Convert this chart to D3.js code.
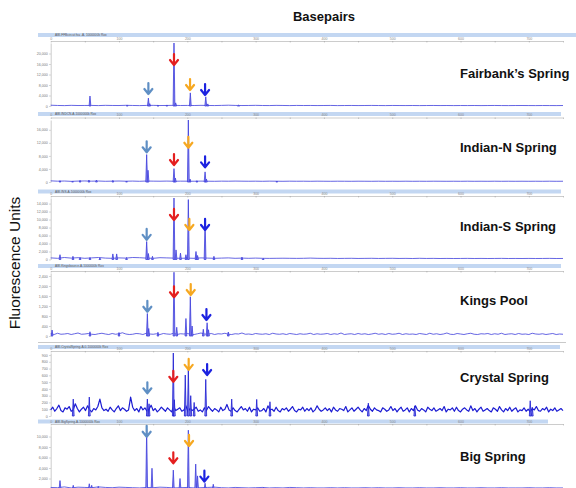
<!DOCTYPE html>
<html>
<head>
<meta charset="utf-8">
<script src="https://cdn.jsdelivr.net/npm/d3@7"></script>
<style>
  body { margin: 0; background: #fff; }
  svg { display: block; font-family: "Liberation Sans", Arial, sans-serif; }
</style>
</head>
<body>
<div id="chart"></div>
<script>
// ---- data ----
const samples = ["Fairbank\u2019s Spring", "Indian-N Spring", "Indian-S Spring", "Kings Pool", "Crystal Spring", "Big Spring"];
const runNames = [
  "ABI-FFBcircut.fsa -A- 1000000k Rox",
  "ABI-INDCN-A-1000000k Rox",
  "ABI-INS-A-1000000k Rox",
  "ABI-Kingsbource-A-1000000k Rox",
  "ABI-CrystalSpring-A-0-1000000k Rox",
  "ABI-BigSpring-A-1000000k Rox"
];
const bpTicks = [0, 100, 200, 300, 400, 500, 600, 700];
const bpMax = 750;

// only the tick labels that show on the page
const yTicks = [
  [0, 4000, 8000, 12000, 16000, 20000],
  [0, 4000, 8000, 12000, 16000],
  [0, 2000, 4000, 6000, 8000, 10000, 12000, 14000],
  [0, 400, 800, 1200, 1600, 2000, 2400],
  [0, 100, 200, 300, 400, 500, 600, 700, 800, 900],
  [2000, 4000, 6000, 8000, 10000]
];
const yMax = [24000, 19000, 15400, 2520, 930, 12000];

// peaks: [basepairs, fluorescence]
const peaks = [
  [[57.5, 3800], [112, 400], [143, 3000], [145, 900], [157, 300], [170, 400], [180.5, 24000], [183, 1200], [204.4, 5000], [227, 3500], [230, 800], [275, 300]],
  [[13.6, 400], [32, 300], [43, 500], [56, 600], [67, 600], [91, 500], [111, 300], [140.5, 8400], [142.5, 3600], [180.5, 4100], [182.5, 1200], [201.5, 19000], [204, 900], [214, 400], [226, 3100], [228, 900], [331, 300]],
  [[13.6, 1200], [32.6, 800], [43, 500], [57.5, 500], [72, 400], [91, 1400], [96.6, 1400], [111, 500], [140.5, 4500], [143, 1500], [149, 800], [180.5, 15400], [183.5, 2400], [190, 1600], [198, 1200], [201.5, 15000], [212.7, 2000], [215, 1000], [226, 9500], [239, 800], [280, 600], [311, 300]],
  [[2, 240], [57.5, 170], [100, 140], [141.5, 900], [143.5, 300], [157, 150], [180.5, 2550], [184.5, 350], [198, 700], [204.4, 1570], [207, 400], [223.4, 270], [229, 530], [231, 250], [260, 160]],
  [[33, 250], [56.5, 280], [141.5, 250], [144, 180], [179.5, 930], [181, 240], [197, 605], [201.5, 700], [205, 300], [210, 200], [227, 540], [265, 250], [301.6, 245], [321, 210], [465, 190], [533, 150], [702, 225], [705, 130]],
  [[13.6, 1600], [33, 700], [56.5, 1000], [60, 700], [69.7, 500], [140.5, 11300], [148.3, 3950], [179.5, 3600], [189.3, 2000], [201.5, 11200], [212.3, 4750], [215, 2500], [226, 1100], [238, 900], [311, 300]]
];

// arrows: [basepairs, fluorescence at arrow tip]  (order: lightblue, red, orange, blue)
const arrowMarks = [
  [[143, 4570], [180.5, 15620], [204, 6100], [226, 4190]],
  [[140.5, 9100], [180.5, 5200], [201.5, 10500], [226, 4500]],
  [[140.5, 4900], [180.5, 9900], [203, 7400], [226, 7400]],
  [[141.5, 970], [180.5, 1550], [205, 1640], [228, 640]],
  [[141.5, 335], [179.5, 505], [202, 680], [229, 605]],
  [[140.5, 9950], [179.5, 4900], [202.5, 8200], [225, 1400]]
];

// baseline signal, evenly spaced over 0..750 bp
const noise = [
  [300,200,150,250,180,200,220,160,250,200, 180,260,200,150,220,240,180,200,260,190,
   220,180,250,200,170,230,300,220,180,200, 250,190,170,230,200,160,210,180,200,170,
   190,210,160,180,200,170,190,210,180,160, 200,180,170,190,160,180,200,170,190,160,
   180,170,190,160,180,200,170,160,180,190, 170,160,180,170,160,180],
  [350,250,300,200,280,320,250,300,220,260, 300,240,280,220,300,260,240,280,230,260,
   250,230,270,240,220,260,240,280,250,230, 250,220,260,240,220,250,230,240,220,250,
   230,220,240,230,220,240,230,220,240,220, 230,220,240,220,230,220,240,230,220,230,
   220,240,220,230,220,240,220,230,220,230, 220,230,220,240,220,230],
  [400,300,500,350,450,300,400,500,350,300, 400,350,500,450,350,300,450,400,350,300,
   350,300,400,350,300,350,400,300,350,300, 350,300,280,300,320,300,280,300,350,300,
   280,300,260,280,300,260,280,300,260,280, 300,260,280,250,300,260,280,250,270,250,
   260,280,250,270,250,260,280,250,260,250, 270,250,260,280,250,260],
  [90,60,110,70,80,100,60,90,120,70, 80,100,70,60,90,110,80,60,100,70,
   90,130,80,60,70,100,90,60,110,80, 70,90,60,100,80,70,110,60,90,80,
   100,70,60,90,120,80,70,100,60,90, 80,110,70,60,90,80,120,70,80,60,
   100,80,70,90,60,110,80,70,90,60, 100,80,60,90,70,80,110,60,90,70,
   80,100,60,90,70,120,60,80,90,60, 100,70,90,60,80,110,70,90,60,100,
   70,80,110,60,90,70,80,60,100,80, 60,110,70,90,60,80,120,70,60,100,
   80,60,90,110,70,60,90,80,100,60, 90,70,110,60,80,90,60,100,70,80,
   60,110,80,70,90,60,80,100,60,80, 70],
  [90,130,70,110,160,80,60,120,100,140, 70,90,180,110,60,100,130,80,150,90,
   60,110,90,140,250,120,80,100,70,130, 90,60,110,150,80,120,100,70,90,280,
   130,80,110,60,140,90,120,70,100,160, 80,110,60,90,130,100,70,120,90,60,
   140,80,100,120,70,90,150,60,110,80, 100,130,70,90,60,120,80,140,100,70,
   110,90,60,130,80,100,170,90,70,120, 80,60,100,140,90,110,70,130,60,100,
   90,120,70,80,110,60,150,90,100,70, 130,80,60,110,90,120,70,100,140,80,
   60,100,90,130,70,110,80,120,60,90, 150,100,70,90,120,80,110,60,130,90,
   70,110,100,80,140,60,90,120,70,100, 130,90,60,110,80,160,100,70,120,90,
   80,60,120,100,70,90,140,80,110,60, 100,130,70,90,120,60,110,80,150,90,
   70,110,90,60,130,100,80,120,70,90, 110,80,140,60,100,90,120,70,130,80,
   60,100,120,90,70,150,80,110,60,100, 130,70,90,110,80,60,120,100,70,140,
   90,60,110,80,130,70,100,120,60,90, 80,120,70,100,60,110,90,140,80,70,
   110,90,130,60,100,80,120,70,90,110, 80],
  [300,250,400,200,350,300,250,400,300,250, 350,300,250,200,300,250,350,300,200,250,
   300,200,250,300,350,250,200,300,250,200, 250,300,200,250,200,300,250,200,250,200,
   200,250,200,250,200,200,250,200,250,200, 200,250,200,200,250,200,200,250,200,200,
   250,200,200,250,200,200,250,200,200,200, 250,200,200,250,200,200]
];

// ---- layout ----
const width = 576;
const height = 488;
const layout = [
  { bar: 33,    axis: 41,    top: 43,  base: 106,   label: 73,  barEnd: 576 },
  { bar: 112,   axis: 117.5, top: 120, base: 182,   label: 147, barEnd: 561 },
  { bar: 189.5, axis: 196,   top: 198, base: 259.5, label: 226, barEnd: 561 },
  { bar: 264,   axis: 271,   top: 273, base: 336,   label: 300, barEnd: 561 },
  { bar: 345,   axis: 351,   top: 353, base: 416,   label: 377, barEnd: 560 },
  { bar: 419.5, axis: 424,   top: 426, base: 489,   label: 456, barEnd: 548 }
];
const arrowColors = ["#5f8fc4", "#e41f1f", "#f6a821", "#1c22e0"];

const svg = d3.select("#chart")
  .append("svg")
  .attr("width", width)
  .attr("height", height);

const x = d3.scaleLinear().domain([0, bpMax]).range([50.7, 563]);

svg.append("text")
  .attr("x", 324)
  .attr("y", 21)
  .attr("text-anchor", "middle")
  .style("font-size", "13px")
  .style("font-weight", "bold")
  .attr("fill", "#111")
  .text("Basepairs");

svg.append("text")
  .attr("transform", "translate(20,263) rotate(-90)")
  .attr("text-anchor", "middle")
  .style("font-size", "15.5px")
  .attr("fill", "#111")
  .text("Fluorescence Units");

// faint frame line above Crystal Spring
svg.append("line")
  .attr("x1", 38).attr("x2", 566)
  .attr("y1", 342.5).attr("y2", 342.5)
  .attr("stroke", "#bbb")
  .attr("stroke-width", 0.8);

samples.forEach((name, i) => {
  const L = layout[i];
  const g = svg.append("g");

  const y = d3.scaleLinear().domain([0, yMax[i]]).range([L.base, L.top]);

  // header bar
  g.append("rect")
    .attr("x", 38)
    .attr("y", L.bar)
    .attr("width", L.barEnd - 38)
    .attr("height", 4)
    .attr("fill", "#c3d7f2");

  g.append("text")
    .attr("x", 55)
    .attr("y", L.bar + 3.2)
    .style("font-size", "3.2px")
    .attr("fill", "#555")
    .text(runNames[i]);

  // bp axis along the top
  const xAxis = g.append("g")
    .attr("transform", `translate(0,${L.axis})`)
    .call(d3.axisBottom(x)
      .tickValues(d3.range(0, bpMax + 1, 50))
      .tickSize(1.5)
      .tickSizeOuter(0)
      .tickFormat(d => bpTicks.includes(d) ? d : ""));
  xAxis.select(".domain").attr("stroke", "#999").attr("stroke-width", 0.5);
  xAxis.selectAll(".tick line").attr("stroke", "#999").attr("stroke-width", 0.5);
  xAxis.selectAll("text")
    .attr("y", -1.3)
    .attr("dy", 0)
    .attr("fill", "#888")
    .style("font-size", "3.5px");

  // fluorescence axis
  const yAxis = g.append("g")
    .attr("transform", `translate(${x(0)},0)`)
    .call(d3.axisLeft(y)
      .tickValues(yTicks[i])
      .tickSize(1.5)
      .tickPadding(1.5)
      .tickSizeOuter(0));
  yAxis.select(".domain").attr("stroke", "#999").attr("stroke-width", 0.5);
  yAxis.selectAll(".tick line").attr("stroke", "#999").attr("stroke-width", 0.5);
  yAxis.selectAll("text")
    .attr("fill", "#777")
    .style("font-size", "3.6px");

  const traceColor = i === 4 ? "#1c1cd2" : "#3f3fdc";
  const step = bpMax / (noise[i].length - 1);

  // baseline signal
  g.append("path")
    .datum(noise[i])
    .attr("fill", "none")
    .attr("stroke", traceColor)
    .attr("stroke-width", i === 4 ? 1.2 : 0.8)
    .attr("stroke-linejoin", "round")
    .attr("d", d3.line()
      .x((d, k) => x(k * step))
      .y(d => y(d)));

  // peaks as narrow spikes
  g.selectAll("path.peak")
    .data(peaks[i])
    .enter()
    .append("path")
    .attr("class", "peak")
    .attr("fill", "#8a8aee")
    .attr("stroke", traceColor)
    .attr("stroke-width", 0.8)
    .attr("stroke-linejoin", "round")
    .attr("d", d => `M${x(d[0] - 1.3)},${y(0)} L${x(d[0])},${y(d[1])} L${x(d[0] + 1.3)},${y(0)} Z`);

  // arrows
  g.selectAll("path.arrow")
    .data(arrowMarks[i])
    .enter()
    .append("path")
    .attr("class", "arrow")
    .attr("fill", "none")
    .attr("stroke", (d, k) => arrowColors[k])
    .attr("stroke-width", 2.2)
    .attr("stroke-linecap", "round")
    .attr("stroke-linejoin", "round")
    .attr("d", d => {
      const ax = x(d[0]);
      const ay = y(d[1]);
      return `M${ax},${ay - 11} L${ax},${ay} M${ax - 4},${ay - 5} L${ax},${ay} L${ax + 4},${ay - 5}`;
    });

  // sample name
  g.append("text")
    .attr("x", 460)
    .attr("y", L.label)
    .attr("dy", "0.35em")
    .style("font-size", "13px")
    .style("font-weight", "bold")
    .attr("fill", "#111")
    .text(name);
});
</script>
</body>
</html>
